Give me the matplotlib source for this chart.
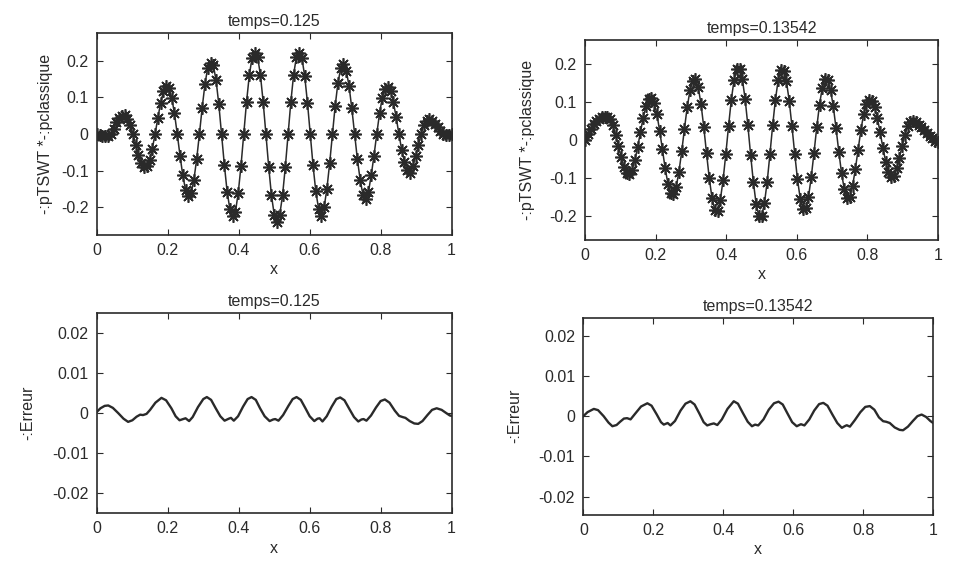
import numpy as np
import matplotlib
matplotlib.use("Agg")
import matplotlib.pyplot as plt

plt.rcParams['font.family'] = ['Liberation Sans', 'DejaVu Sans']
plt.rcParams['axes.unicode_minus'] = False

# sample grid of the schemes (129 points on [0, 1])
x = np.arange(129) / 128

# temps=0.125 : pTSWT (stars) / pclassique (line)
p_t1 = [0.0, -0.003, -0.005, -0.006, -0.005, 0.0, 0.015, 0.032, 0.045, 0.05,
        0.051, 0.042, 0.025, 0.0, -0.029, -0.057, -0.079, -0.09, -0.088, -0.071,
        -0.040, 0.0, 0.044, 0.085, 0.116, 0.13, 0.125, 0.099, 0.056, 0.0,
        -0.059, -0.113, -0.152, -0.17, -0.161, -0.125, -0.069, 0.0, 0.072, 0.136,
        0.181, 0.195, 0.188, 0.147, 0.081, 0.0, -0.084, -0.157, -0.205, -0.223,
        -0.212, -0.161, -0.087, 0.0, 0.087, 0.160, 0.208, 0.222, 0.210, 0.162,
        0.088, 0.0, -0.089, -0.167, -0.220, -0.241, -0.220, -0.167, -0.090, 0.0,
        0.088, 0.162, 0.210, 0.222, 0.207, 0.158, 0.085, 0.0, -0.085, -0.156,
        -0.203, -0.223, -0.200, -0.150, -0.080, 0.0, 0.077, 0.140, 0.179, 0.19,
        0.173, 0.131, 0.070, 0.0, -0.068, -0.124, -0.165, -0.178, -0.158, -0.113,
        -0.059, 0.0, 0.056, 0.099, 0.122, 0.127, 0.117, 0.087, 0.046, 0.0,
        -0.043, -0.076, -0.098, -0.105, -0.086, -0.061, -0.030, 0.0, 0.025, 0.036,
        0.040, 0.036, 0.028, 0.018, 0.008, 0.0, -0.003, -0.002, 0.0]

# temps=0.13542
p_t2 = [0.0, 0.015, 0.03, 0.042, 0.05, 0.056, 0.06, 0.059, 0.059, 0.055,
        0.039, 0.014, -0.015, -0.045, -0.070, -0.086, -0.089, -0.078, -0.053, -0.019,
        0.020, 0.058, 0.088, 0.107, 0.110, 0.097, 0.067, 0.024, -0.025, -0.075,
        -0.115, -0.140, -0.143, -0.123, -0.083, -0.030, 0.030, 0.087, 0.130, 0.156,
        0.159, 0.138, 0.094, 0.034, -0.035, -0.101, -0.153, -0.184, -0.186, -0.158,
        -0.106, -0.037, 0.037, 0.106, 0.158, 0.186, 0.187, 0.160, 0.108, 0.038,
        -0.039, -0.111, -0.168, -0.200, -0.200, -0.167, -0.111, -0.038, 0.038, 0.106,
        0.157, 0.183, 0.181, 0.154, 0.103, 0.036, -0.036, -0.103, -0.154, -0.181,
        -0.180, -0.150, -0.098, -0.034, 0.033, 0.093, 0.137, 0.159, 0.157, 0.132,
        0.088, 0.031, -0.031, -0.087, -0.130, -0.152, -0.149, -0.121, -0.077, -0.026,
        0.025, 0.067, 0.095, 0.106, 0.103, 0.086, 0.057, 0.020, -0.020, -0.057,
        -0.084, -0.098, -0.095, -0.075, -0.047, -0.015, 0.014, 0.036, 0.048, 0.050,
        0.046, 0.040, 0.033, 0.025, 0.017, 0.010, 0.004, -0.002, -0.005]

# erreur, temps=0.125  (x, y*1e-3)
e1_x = [0.000, 0.010, 0.022, 0.032, 0.045, 0.060, 0.075, 0.088, 0.100, 0.112,
        0.122, 0.130, 0.140, 0.150, 0.165, 0.182, 0.195, 0.210, 0.222, 0.233,
        0.243, 0.250, 0.260, 0.270, 0.285, 0.300, 0.310, 0.322, 0.335, 0.348,
        0.360, 0.372, 0.378, 0.386, 0.398, 0.412, 0.425, 0.436, 0.448, 0.460,
        0.473, 0.487, 0.497, 0.503, 0.512, 0.525, 0.540, 0.552, 0.563, 0.575,
        0.588, 0.600, 0.613, 0.622, 0.628, 0.636, 0.648, 0.662, 0.675, 0.686,
        0.698, 0.712, 0.725, 0.737, 0.746, 0.752, 0.760, 0.773, 0.787, 0.800,
        0.812, 0.825, 0.840, 0.852, 0.862, 0.870, 0.882, 0.895, 0.906, 0.918,
        0.932, 0.945, 0.958, 0.972, 0.985, 0.995, 1.000]
e1_y = [0.3, 1.2, 1.8, 1.9, 1.3, 0.0, -1.4, -2.2, -1.8, -0.9,
        -0.4, -0.5, -0.2, 0.8, 2.6, 3.8, 3.2, 1.2, -0.8, -1.8,
        -1.5, -1.3, -2.0, -1.0, 1.5, 3.5, 4.0, 3.3, 1.2, -0.8,
        -1.9, -1.4, -1.2, -1.9, -0.8, 1.6, 3.5, 4.0, 3.3, 1.2,
        -0.8, -2.0, -1.6, -1.5, -1.9, -0.5, 1.8, 3.5, 4.0, 3.3,
        1.2, -0.8, -2.0, -1.4, -1.3, -2.1, -0.8, 1.6, 3.5, 3.9,
        3.2, 1.0, -1.0, -2.1, -1.6, -1.5, -1.9, -0.6, 1.4, 3.0,
        3.4, 2.6, 0.6, -0.7, -1.0, -1.2, -2.0, -2.6, -2.7, -2.0,
        -0.5, 0.8, 1.2, 0.8, 0.0, -0.6, -0.7]

# erreur, temps=0.13542
e2_x = [0.000, 0.012, 0.030, 0.042, 0.058, 0.072, 0.083, 0.095, 0.105, 0.116,
        0.125, 0.135, 0.148, 0.165, 0.183, 0.195, 0.210, 0.222, 0.230, 0.241,
        0.249, 0.262, 0.278, 0.292, 0.306, 0.318, 0.332, 0.344, 0.354, 0.364,
        0.373, 0.383, 0.396, 0.412, 0.430, 0.442, 0.456, 0.470, 0.482, 0.491,
        0.500, 0.515, 0.530, 0.545, 0.558, 0.570, 0.584, 0.597, 0.610, 0.622,
        0.632, 0.646, 0.660, 0.674, 0.686, 0.698, 0.712, 0.726, 0.739, 0.747,
        0.753, 0.762, 0.776, 0.792, 0.806, 0.819, 0.832, 0.845, 0.857, 0.866,
        0.876, 0.890, 0.904, 0.914, 0.928, 0.942, 0.955, 0.967, 0.980, 0.992,
        1.000]
e2_y = [0.0, 1.0, 1.8, 1.5, 0.0, -1.6, -2.5, -2.2, -1.4, -0.6,
        -0.5, -0.8, 0.6, 2.4, 3.2, 2.6, 0.4, -1.5, -2.1, -1.7,
        -2.3, -1.2, 1.4, 3.1, 3.7, 2.9, 0.6, -1.5, -2.3, -2.0,
        -1.8, -2.2, -0.8, 1.8, 3.7, 3.1, 0.8, -1.4, -2.5, -2.1,
        -2.3, -0.8, 1.6, 3.2, 3.6, 2.9, 0.6, -1.5, -2.5, -2.0,
        -2.3, -0.8, 1.4, 3.0, 3.3, 2.6, 0.4, -1.7, -2.9, -2.5,
        -2.25, -2.6, -1.0, 1.0, 2.3, 2.5, 1.6, -0.3, -1.25, -1.4,
        -1.7, -2.8, -3.4, -3.5, -2.6, -1.2, 0.0, 0.4, -0.2, -1.2,
        -1.7]

titles = ['temps=0.125', 'temps=0.13542']
xticks = [0, 0.2, 0.4, 0.6, 0.8, 1]
xticklabels = ['0', '0.2', '0.4', '0.6', '0.8', '1']
pticks = [-0.2, -0.1, 0, 0.1, 0.2]
pticklabels = ['-0.2', '-0.1', '0', '0.1', '0.2']
eticks = [-0.02, -0.01, 0, 0.01, 0.02]
eticklabels = ['-0.02', '-0.01', '0', '0.01', '0.02']

ink = '#2a2a2a'
fs = 11.5

fig = plt.figure(figsize=(9.69, 5.62), dpi=100)
ax_tl = fig.add_axes([0.100, 0.582, 0.366, 0.359])
ax_tr = fig.add_axes([0.604, 0.573, 0.364, 0.356])
ax_bl = fig.add_axes([0.100, 0.087, 0.366, 0.356])
ax_br = fig.add_axes([0.602, 0.084, 0.361, 0.351])


def style(ax, title, yticks, ylabels, ylabel, ylim, ylabpad):
    ax.set_xlim(0, 1)
    ax.set_ylim(*ylim)
    ax.set_xticks(xticks)
    ax.set_xticklabels(xticklabels, fontsize=fs, color=ink)
    ax.set_yticks(yticks)
    ax.set_yticklabels(ylabels, fontsize=fs, color=ink)
    ax.tick_params(direction='in', top=True, right=True, length=4, width=0.8,
                   color=ink, pad=6)
    for s in ax.spines.values():
        s.set_linewidth(1.2)
        s.set_color(ink)
    ax.set_title(title, fontsize=fs, color=ink, pad=5)
    ax.set_xlabel('x', fontsize=fs, color=ink, labelpad=3)
    ax.set_ylabel(ylabel, fontsize=fs, color=ink, labelpad=ylabpad)


for ax, p in [(ax_tl, p_t1), (ax_tr, p_t2)]:
    ax.plot(x, p, color=ink, lw=1.1)
    ax.plot(x, p, linestyle='none', marker=(8, 2, 0), markersize=9,
            markeredgewidth=1.2, color=ink)

style(ax_tl, titles[0], pticks, pticklabels, '-:pTSWT *-:pclassique', (-0.275, 0.275), 6)
style(ax_tr, titles[1], pticks, pticklabels, '-:pTSWT *-:pclassique', (-0.263, 0.263), 10)

ax_bl.plot(e1_x, np.array(e1_y) * 1e-3, color=ink, lw=1.7)
ax_br.plot(e2_x, np.array(e2_y) * 1e-3, color=ink, lw=1.7)
style(ax_bl, titles[0], eticks, eticklabels, '-:Erreur', (-0.025, 0.025), 12)
style(ax_br, titles[1], eticks, eticklabels, '-:Erreur', (-0.0245, 0.0245), 12)

fig.savefig('out.png', dpi=100, facecolor='white')
